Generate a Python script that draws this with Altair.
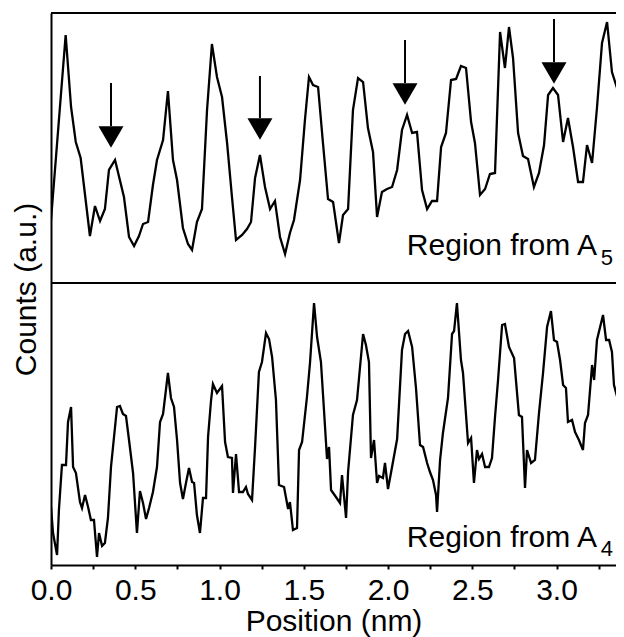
import altair as alt
import pandas as pd

FONT = "Liberation Sans"

# ---- data (position in nm, counts in a.u.) ----
top_x = [0.000, 0.087, 0.119, 0.147, 0.176, 0.231, 0.261, 0.291, 0.320, 0.344,
         0.380, 0.433, 0.463, 0.493, 0.522, 0.546, 0.576, 0.605, 0.629, 0.665,
         0.694, 0.724, 0.748, 0.783, 0.813, 0.837, 0.866, 0.896, 0.926, 0.955,
         0.985, 1.015, 1.045, 1.074, 1.098, 1.134, 1.163, 1.187, 1.211, 1.240,
         1.270, 1.300, 1.329, 1.359, 1.389, 1.418, 1.442, 1.478, 1.507, 1.531,
         1.555, 1.585, 1.614, 1.644, 1.674, 1.709, 1.733, 1.763, 1.792, 1.822,
         1.852, 1.881, 1.911, 1.935, 1.964, 1.994, 2.024, 2.054, 2.083, 2.113,
         2.143, 2.172, 2.202, 2.232, 2.261, 2.291, 2.315, 2.344, 2.374, 2.404,
         2.433, 2.463, 2.493, 2.516, 2.546, 2.576, 2.605, 2.635, 2.665, 2.694,
         2.718, 2.742, 2.772, 2.801, 2.831, 2.866, 2.896, 2.926, 2.950, 2.979,
         3.009, 3.039, 3.068, 3.098, 3.128, 3.157, 3.181, 3.211, 3.240, 3.270,
         3.300, 3.329, 3.359, 3.389, 3.401]
top_counts = [63, 248, 176, 141, 125, 47, 77, 62, 74, 113,
              123, 86, 46, 37, 47, 59, 61, 98, 123, 143,
              192, 123, 103, 55, 39, 33, 61, 74, 173, 239,
              206, 186, 140, 86, 43, 48, 54, 61, 105, 128,
              96, 74, 82, 46, 29, 50, 63, 103, 163, 206,
              198, 196, 140, 84, 81, 40, 68, 74, 173, 205,
              201, 155, 131, 66, 91, 94, 96, 113, 153, 168,
              150, 151, 93, 74, 82, 82, 136, 150, 203, 204,
              217, 215, 161, 140, 88, 94, 109, 110, 251, 215,
              256, 225, 150, 127, 124, 96, 110, 138, 188, 195,
              188, 141, 165, 136, 101, 101, 138, 120, 175, 240,
              261, 211, 195, 136, 156]

bottom_x = [0.000, 0.012, 0.036, 0.047, 0.065, 0.089, 0.101, 0.119, 0.131, 0.148,
            0.172, 0.184, 0.202, 0.220, 0.237, 0.255, 0.273, 0.285, 0.303, 0.320,
            0.338, 0.356, 0.368, 0.392, 0.409, 0.427, 0.445, 0.463, 0.487, 0.510,
            0.528, 0.546, 0.564, 0.582, 0.605, 0.629, 0.647, 0.665, 0.682, 0.694,
            0.712, 0.730, 0.748, 0.766, 0.783, 0.801, 0.819, 0.837, 0.849, 0.866,
            0.884, 0.902, 0.920, 0.932, 0.950, 0.961, 0.985, 1.015, 1.033, 1.050,
            1.074, 1.080, 1.098, 1.116, 1.139, 1.157, 1.169, 1.193, 1.211, 1.234,
            1.252, 1.276, 1.294, 1.312, 1.335, 1.353, 1.383, 1.407, 1.418, 1.436,
            1.460, 1.472, 1.490, 1.519, 1.537, 1.561, 1.579, 1.602, 1.620, 1.638,
            1.650, 1.662, 1.691, 1.715, 1.727, 1.751, 1.763, 1.792, 1.816, 1.828,
            1.852, 1.869, 1.887, 1.899, 1.917, 1.935, 1.947, 1.970, 1.982, 2.000,
            2.024, 2.054, 2.083, 2.101, 2.119, 2.143, 2.166, 2.190, 2.208, 2.232,
            2.249, 2.267, 2.285, 2.291, 2.309, 2.326, 2.356, 2.380, 2.392, 2.409,
            2.433, 2.445, 2.475, 2.493, 2.510, 2.528, 2.540, 2.558, 2.576, 2.599,
            2.617, 2.635, 2.653, 2.677, 2.694, 2.718, 2.748, 2.777, 2.795, 2.813,
            2.825, 2.849, 2.872, 2.896, 2.920, 2.944, 2.967, 2.985, 3.003, 3.021,
            3.039, 3.056, 3.068, 3.092, 3.110, 3.133, 3.157, 3.169, 3.187, 3.211,
            3.223, 3.240, 3.276, 3.294, 3.312, 3.329, 3.341, 3.365, 3.389, 3.401]
bottom_counts = [58, 32, 10, 55, 100, 100, 143, 158, 98, 92,
                 63, 57, 70, 58, 45, 45, 8, 32, 19, 22,
                 47, 98, 118, 158, 159, 151, 149, 125, 92, 32,
                 74, 62, 46, 57, 73, 98, 143, 151, 175, 192,
                 167, 158, 125, 82, 66, 82, 97, 83, 82, 50,
                 32, 67, 67, 128, 165, 181, 172, 179, 123, 108,
                 107, 72, 111, 73, 73, 78, 71, 65, 118, 193,
                 203, 232, 226, 208, 165, 80, 78, 56, 63, 35,
                 37, 115, 123, 168, 202, 262, 228, 203, 155, 106,
                 118, 75, 68, 62, 90, 47, 93, 150, 165, 187,
                 231, 220, 203, 107, 125, 82, 89, 87, 102, 76,
                 98, 126, 215, 231, 234, 218, 177, 120, 118, 102,
                 93, 85, 70, 53, 105, 132, 167, 231, 234, 262,
                 205, 192, 122, 127, 82, 115, 106, 111, 98, 98,
                 107, 148, 185, 240, 241, 218, 207, 150, 148, 77,
                 115, 102, 105, 152, 192, 238, 254, 225, 223, 205,
                 180, 177, 143, 145, 133, 125, 115, 142, 150, 200,
                 185, 225, 250, 225, 225, 213, 180, 165, 150, 158]

PANEL = 282          # height of the lower panel in count units
TOTAL = 552          # full stacked y range
X_MAX = 3.353

tick_values = [0.0, 0.25, 0.5, 0.75, 1.0, 1.25, 1.5, 1.75, 2.0, 2.25, 2.5,
               2.75, 3.0, 3.25]

# arrows (top panel, in stacked units)
arrow_x = [0.356, 1.240, 2.101, 2.985]
arrow_shaft_top = [482, 489, 525, 546]
arrow_shaft_bottom = [439, 447, 482, 503]
arrow_head = [428, 436, 471, 492]

label_text = ["Region from A", "Region from A"]
label_sub = ["5", "4"]
label_x = [3.240, 3.240]
label_y = [310, 18]
sub_x = [3.262, 3.262]
sub_y = [300, 9]

frame_y = [PANEL, TOTAL]

# ---- tables ----
top_df = pd.DataFrame({"x": top_x, "y": [c + PANEL for c in top_counts]})
bot_df = pd.DataFrame({"x": bottom_x, "y": bottom_counts})
arrow_df = pd.DataFrame({"x": arrow_x, "y1": arrow_shaft_top,
                         "y2": arrow_shaft_bottom, "yh": arrow_head})
label_df = pd.DataFrame({"x": label_x, "y": label_y, "t": label_text})
sub_df = pd.DataFrame({"x": sub_x, "y": sub_y, "t": label_sub})
frame_df = pd.DataFrame({"y": frame_y})

xscale = alt.Scale(domain=[0, X_MAX], nice=False, zero=False)
yscale = alt.Scale(domain=[0, TOTAL], nice=False, zero=False)

x_axis = alt.Axis(
    values=tick_values,
    labelExpr="datum.value % 0.5 == 0 ? format(datum.value, '.1f') : ''",
    labelFlush=False, labelOverlap=False, grid=False,
    tickSize=4, tickWidth=2, tickColor="black",
    domainColor="black", domainWidth=2,
    labelFont=FONT, labelFontSize=30, labelColor="black", labelPadding=6,
    title="Position (nm)", titleFont=FONT, titleFontSize=30,
    titleFontWeight="normal", titleColor="black", titlePadding=1,
)
y_axis = alt.Axis(
    labels=False, ticks=False, grid=False,
    domainColor="black", domainWidth=2,
    title="Counts (a.u.)", titleFont=FONT, titleFontSize=30,
    titleFontWeight="normal", titleColor="black", titlePadding=16,
    titleBaseline="alphabetic",
)

base_x = alt.X("x:Q", scale=xscale, axis=x_axis)

bottom_line = alt.Chart(bot_df).mark_line(color="black", strokeWidth=2.3, clip=True).encode(
    x=base_x, y=alt.Y("y:Q", scale=yscale, axis=y_axis))
top_line = alt.Chart(top_df).mark_line(color="black", strokeWidth=2.3, clip=True).encode(
    x=alt.X("x:Q", scale=xscale), y=alt.Y("y:Q", scale=yscale))

frame = alt.Chart(frame_df).mark_rule(color="black", strokeWidth=2).encode(
    y=alt.Y("y:Q", scale=yscale), x=alt.value(0), x2=alt.value(565))

shafts = alt.Chart(arrow_df).mark_rule(color="black", strokeWidth=2).encode(
    x=alt.X("x:Q", scale=xscale), y=alt.Y("y1:Q", scale=yscale), y2="y2:Q")
heads = alt.Chart(arrow_df).mark_point(shape="triangle-down", filled=True,
                                       size=625, color="black", opacity=1).encode(
    x=alt.X("x:Q", scale=xscale), y=alt.Y("yh:Q", scale=yscale))

labels = alt.Chart(label_df).mark_text(align="right", baseline="alphabetic",
                                       font=FONT, fontSize=30, color="black").encode(
    x=alt.X("x:Q", scale=xscale), y=alt.Y("y:Q", scale=yscale), text="t:N")
subs = alt.Chart(sub_df).mark_text(align="left", baseline="alphabetic",
                                   font=FONT, fontSize=22, color="black").encode(
    x=alt.X("x:Q", scale=xscale), y=alt.Y("y:Q", scale=yscale), text="t:N")

chart = alt.layer(bottom_line, top_line, frame, shafts, heads, labels, subs).properties(
    width=565, height=552,
    autosize="none",
    padding={"left": 43, "top": 5, "right": 0, "bottom": 75},
    background="white",
).configure_view(stroke=None)

chart.save("out.html", embed_options={"renderer": "svg", "actions": False})
